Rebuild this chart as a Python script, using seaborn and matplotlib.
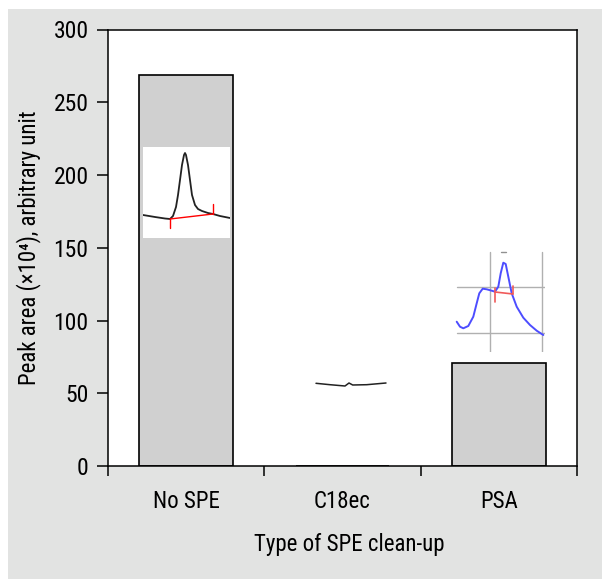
import numpy as np
import matplotlib
matplotlib.use('Agg')
import matplotlib.pyplot as plt
from matplotlib.patches import Rectangle
import seaborn as sns

sns.set_theme(style='ticks')
plt.rcParams['font.family'] = ['Roboto Condensed', 'Liberation Sans', 'DejaVu Sans']

# bar data
categories = ['No SPE', 'C18ec', 'PSA']
peak_area = [269, 0, 71]

# chromatogram insets (local units: time, signal)
nospe_t = [0, 12, 22, 27, 30, 33, 35, 37, 39, 41, 42, 43, 45, 47, 49, 52, 55, 59, 65, 70, 77, 87]
nospe_s = [23, 21, 19.5, 19, 22, 31, 43, 58, 73, 83, 85, 83, 73, 58, 43, 33, 29, 27, 25, 24, 22, 20]
nospe_base_t = [27, 70]
nospe_base_s = [19, 24]

psa_t = [1.7, 5, 8.3, 13.3, 18.3, 21.7, 24.3, 27.7, 31.7, 36.7, 40, 43.3, 45.7, 48.3, 50.7,
         53.3, 56.7, 61.7, 68.3, 75, 81.7, 88.3]
psa_s = [30.3, 25.3, 23.7, 26, 35.3, 48.7, 58.7, 63.3, 62.7, 61.3, 60.3, 65.3, 78.7, 89.3, 88,
         75.3, 58.7, 45.3, 34.3, 27, 21.3, 17]
psa_base_t = [40, 58]
psa_base_s = [60, 58]

c18_t = [2, 16, 31, 35, 38.7, 52.7, 72]
c18_s = [6.7, 5.3, 4, 7, 5, 5.3, 7]

W, H = 602, 579
fig = plt.figure(figsize=(W / 100, H / 100), dpi=100, facecolor='white')
fig.patches.append(Rectangle((8 / W, 0), 1 - 8 / W, (H - 9) / H, transform=fig.transFigure,
                             facecolor='#e2e3e2', edgecolor='none', zorder=-10))

ax = fig.add_axes([108 / W, (H - 466) / H, (577 - 108) / W, (466 - 29.5) / H])
ax.set_facecolor('white')
sns.barplot(x=categories, y=peak_area, order=categories, color='#d0d0d0', saturation=1,
            edgecolor='black', linewidth=1.2, width=0.6, ax=ax)
ax.set_ylim(0, 300)
ax.set_xlim(-0.5, 2.5)
ax.set_yticks(np.arange(0, 301, 50))
ax.set_xticks([0, 1, 2])
ax.set_xticks([-0.5, 0.5, 1.5, 2.5], minor=True)
ax.tick_params(axis='x', which='major', length=0, pad=17, labelsize=16.5, colors='black')
ax.tick_params(axis='x', which='minor', length=7, width=1.1, direction='out', color='black')
ax.tick_params(axis='y', length=8, width=1.1, direction='out', labelsize=17, pad=6, colors='black')
for sp in ax.spines.values():
    sp.set_visible(True)
    sp.set_color('black')
    sp.set_linewidth(1.1)
ax.set_xlabel('Type of SPE clean-up', fontsize=16.5, labelpad=15, color='black', x=0.515)
ax.set_ylabel('Peak area (×10⁴), arbitrary unit', fontsize=16.5, labelpad=9, color='black')

# inset: No SPE chromatogram
ax1 = fig.add_axes([143 / W, (H - 238) / H, 87 / W, 91 / H])
ax1.set_facecolor('white')
ax1.plot(nospe_t, nospe_s, color='#222222', lw=1.3)
ax1.plot(nospe_base_t, nospe_base_s, color='red', lw=1)
ax1.plot([nospe_base_t[0]] * 2, [nospe_base_s[0], nospe_base_s[0] - 9], color='red', lw=1)
ax1.plot([nospe_base_t[1]] * 2, [nospe_base_s[1], nospe_base_s[1] + 10], color='red', lw=1)
ax1.set_xlim(0, 87)
ax1.set_ylim(0, 91)
ax1.set_xticks([])
ax1.set_yticks([])
for sp in ax1.spines.values():
    sp.set_visible(False)

# inset: PSA chromatogram
ax2 = fig.add_axes([455 / W, (H - 352) / H, 90 / W, 102 / H])
ax2.patch.set_alpha(0)
for gx in [35, 87]:
    ax2.plot([gx, gx], [0, 100], color='#b0b0b0', lw=1)
for gy in [65, 19]:
    ax2.plot([2, 90], [gy, gy], color='#b0b0b0', lw=1)
ax2.plot([46, 51], [100, 100], color='#909090', lw=1)
ax2.plot(psa_t, psa_s, color='#4d4dff', lw=1.4)
ax2.plot(psa_base_t, psa_base_s, color='#f05a5a', lw=1.2)
ax2.plot([psa_base_t[0]] * 2, [psa_base_s[0] + 4, psa_base_s[0] - 10], color='#f05a5a', lw=1.2)
ax2.plot([psa_base_t[1]] * 2, [psa_base_s[1], psa_base_s[1] + 8], color='#f05a5a', lw=1.2)
ax2.set_xlim(0, 90)
ax2.set_ylim(0, 102)
ax2.set_xticks([])
ax2.set_yticks([])
for sp in ax2.spines.values():
    sp.set_visible(False)

# inset: C18ec chromatogram
ax3 = fig.add_axes([314 / W, (H - 390) / H, 74 / W, 12 / H])
ax3.patch.set_alpha(0)
ax3.plot(c18_t, c18_s, color='#222222', lw=1.1)
ax3.set_xlim(0, 74)
ax3.set_ylim(0, 12)
ax3.set_xticks([])
ax3.set_yticks([])
for sp in ax3.spines.values():
    sp.set_visible(False)

fig.savefig('out.png', dpi=100, facecolor=fig.get_facecolor())
